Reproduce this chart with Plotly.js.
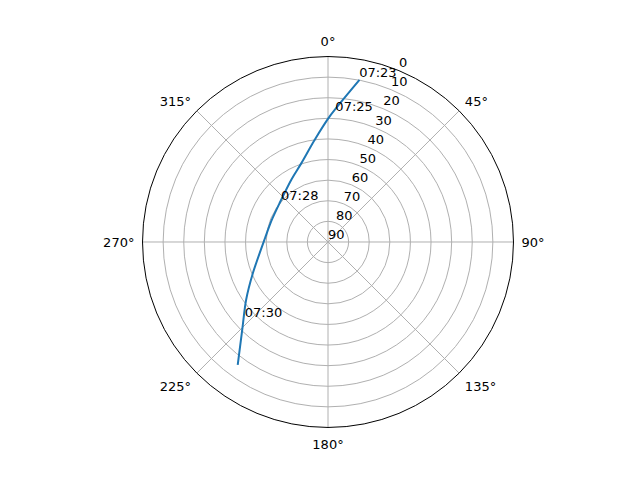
<!DOCTYPE html>
<html>
<head>
<meta charset="utf-8">
<script src="https://cdn.plot.ly/plotly-3.0.1.min.js"></script>
<style>
  html, body { margin: 0; padding: 0; background: #fff; }
  #chart { width: 640px; height: 480px; }
</style>
</head>
<body>
<div id="chart"></div>
<script>
// pass track: azimuth (deg, clockwise from north) and elevation (deg)
const trackAz = [11.0, 0.7, 352.5, 341.2, 329.3, 308.6, 291.4, 273.6, 247.4, 234.7, 224.3, 216.3];
const trackEl = [9.9, 29.2, 40.1, 49.7, 55.0, 59.9, 60.7, 59.4, 50.5, 41.3, 30.4, 16.0];

// time labels along the track
const labelText = ["07:23", "07:25", "07:28", "07:30"];
const labelAz = [10.9, 3.3, 309.7, 226.6];
const labelEl = [10.0, 27.8, 60.4, 34.4];

const angleTicks = [0, 45, 90, 135, 180, 225, 270, 315];
const radialTicks = [0, 10, 20, 30, 40, 50, 60, 70, 80, 90];
const radialLabelAngle = 22.5;

const font = { family: "DejaVu Sans, sans-serif", size: 13, color: "#000" };

const track = {
  type: "scatterpolar",
  theta: trackAz,
  r: trackEl,
  mode: "lines",
  line: { color: "#1f77b4", width: 2, shape: "spline", smoothing: 0.8 },
  showlegend: false,
  hoverinfo: "skip",
};

const labels = {
  type: "scatterpolar",
  theta: labelAz,
  r: labelEl,
  mode: "text",
  text: labelText,
  textposition: "top right",
  textfont: font,
  showlegend: false,
  hoverinfo: "skip",
  cliponaxis: false,
};

// radial tick labels, left/bottom anchored on the 22.5 deg spoke like matplotlib
const rLabels = {
  type: "scatterpolar",
  theta: radialTicks.map(() => radialLabelAngle),
  r: radialTicks,
  mode: "text",
  text: radialTicks.map(String),
  textposition: "top right",
  textfont: font,
  showlegend: false,
  hoverinfo: "skip",
  cliponaxis: false,
};

const layout = {
  width: 640,
  height: 480,
  margin: { l: 0, r: 0, t: 0, b: 0 },
  paper_bgcolor: "#fff",
  font,
  polar: {
    domain: { x: [0.2227, 0.8023], y: [0.1094, 0.8823] },
    bgcolor: "#fff",
    angularaxis: {
      rotation: 90,
      direction: "clockwise",
      tickmode: "array",
      tickvals: angleTicks,
      ticktext: angleTicks.map((a) => a + "°"),
      ticks: "outside",
      ticklen: 5,
      tickcolor: "rgba(0,0,0,0)",
      showline: true,
      linecolor: "#000",
      linewidth: 1,
      gridcolor: "#b0b0b0",
      gridwidth: 1,
      tickfont: font,
    },
    radialaxis: {
      range: [90, 0],
      tickmode: "array",
      tickvals: radialTicks,
      ticks: "",
      showticklabels: false,
      showline: false,
      gridcolor: "#b0b0b0",
      gridwidth: 1,
    },
  },
};

Plotly.newPlot("chart", [track, labels, rLabels], layout, { displayModeBar: false, staticPlot: true });
</script>
</body>
</html>
